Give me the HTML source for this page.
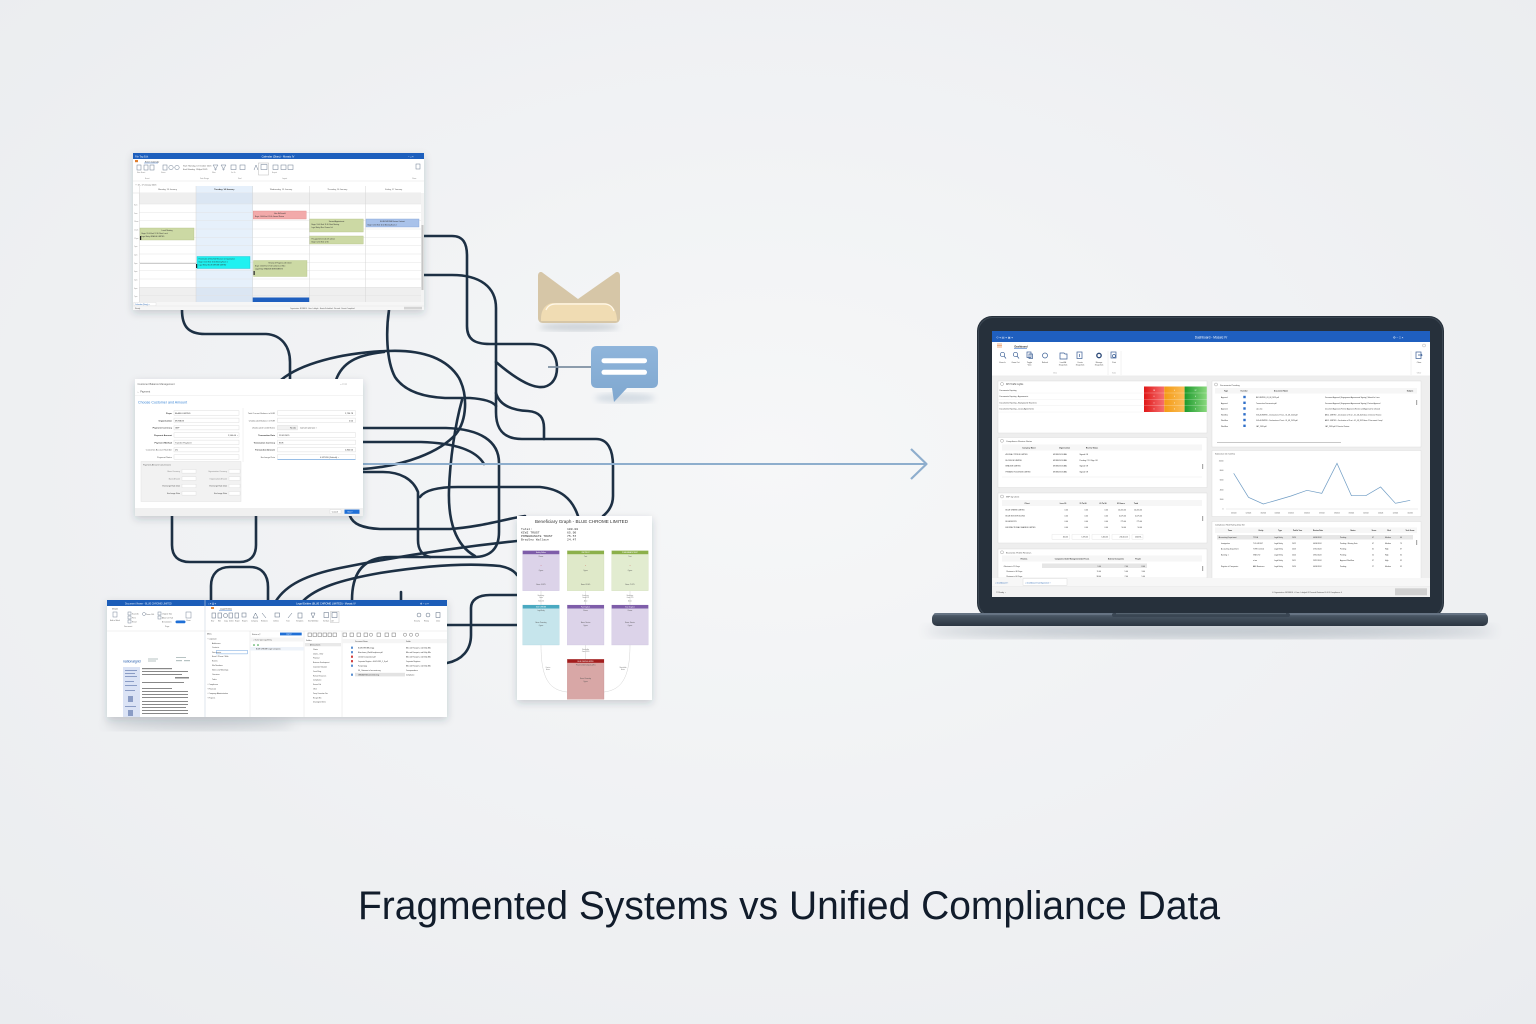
<!DOCTYPE html>
<html><head><meta charset="utf-8">
<style>
html,body{margin:0;padding:0;width:1536px;height:1024px;overflow:hidden;background:#f2f3f5;}
svg{display:block;font-family:"Liberation Sans",Arial,sans-serif;}
</style></head><body>
<svg width="1536" height="1024" viewBox="0 0 1536 1024" xmlns="http://www.w3.org/2000/svg">
<defs>
<radialGradient id="bg" cx="50%" cy="45%" r="75%">
<stop offset="0" stop-color="#f6f7f8"/><stop offset="1" stop-color="#eaecef"/>
</radialGradient>
<filter id="sh" x="-10%" y="-10%" width="120%" height="135%"><feDropShadow dx="0" dy="3" stdDeviation="4" flood-color="#24364a" flood-opacity="0.2"/></filter>
<filter id="sh2" x="-20%" y="-20%" width="140%" height="160%"><feDropShadow dx="0" dy="4" stdDeviation="4" flood-color="#4a6a8a" flood-opacity="0.22"/></filter>
<filter id="blur6"><feGaussianBlur stdDeviation="6"/></filter>
<filter id="blur3"><feGaussianBlur stdDeviation="3"/></filter>
<linearGradient id="gr" x1="0" x2="1"><stop offset="0" stop-color="#e01818"/><stop offset="1" stop-color="#f67070"/></linearGradient>
<linearGradient id="go" x1="0" x2="1"><stop offset="0" stop-color="#f39a14"/><stop offset="1" stop-color="#fbbd58"/></linearGradient>
<linearGradient id="gg" x1="0" x2="1"><stop offset="0" stop-color="#1c9a2c"/><stop offset="1" stop-color="#8ad87e"/></linearGradient>
<linearGradient id="base" x1="0" y1="0" x2="0" y2="1"><stop offset="0" stop-color="#5c6a7a"/><stop offset="0.3" stop-color="#45525f"/><stop offset="1" stop-color="#2b3541"/></linearGradient>
<linearGradient id="chat" x1="0" y1="0" x2="0" y2="1"><stop offset="0" stop-color="#8fb5db"/><stop offset="1" stop-color="#7fa7cf"/></linearGradient>
</defs>

<rect x="0" y="0" width="1536" height="1024" fill="url(#bg)"/>

<!-- tangled lines -->
<g fill="none" stroke="#1d3044" stroke-width="2.6" stroke-linecap="round" stroke-linejoin="round">
<path d="M424,236 H452 C463,236 467,243 467,256 V326 C467,339 474,344 490,344 H530 C549,344 557,354 557,368 C557,381 549,388 539,387 C527,386 510,374 496,362"/>
<path d="M424,275 H452 C480,275 496,287 496,308 V412 C496,430 504,439 522,439 H596 C608,439 613,450 613,466 V496 C613,506 608,512 603,516"/>
<path d="M496,393 C499,404 510,410 528,411 C540,412 544,418 544,428 V439"/>
<path d="M281,380 C300,364 340,353 386,351 C425,349 448,360 459,378 C468,395 467,420 456,434 C440,452 405,466 363,469"/>
<path d="M336,380 C342,363 356,355 384,352"/>
<path d="M182,310 C182,326 188,334 205,334 H266 C282,335 290,347 290,362 V380"/>
<path d="M389,310 C386,330 386,360 395,377 C405,392 425,397 445,398 H470 C485,399 493,402 496,406"/>
<path d="M462,400 C455,425 450,460 449,490 C448,520 455,545 475,556"/>
<path d="M363,428 H446 C480,429 499,441 499,463 V532 C499,549 490,557 474,557 H390 C366,557 352,570 352,600"/>
<path d="M363,442 H421 C455,443 476,450 484,464"/>
<path d="M363,472 H383 C400,472 413,479 418,492 V540 C418,550 422,555 430,557"/>
<path d="M420,497 C425,490 438,487 458,487 H540 C560,489 572,498 578,516"/>
<path d="M172,516 V545 C172,556 178,562 190,562 H240 C250,562 256,556 256,545 V516"/>
<path d="M211,600 V586 C211,574 218,567 230,567 H250 C262,567 268,575 268,587 V600"/>
<path d="M276,601 C286,585 306,575 340,568 C390,558 450,548 517,541"/>
<path d="M303,601 C316,588 340,580 380,573 C430,565 470,563 500,566 C510,568 515,572 517,575"/>
<path d="M401,592 V601"/>
<path d="M447,625 H518"/>
<path d="M447,663 C462,660 471,650 471,635 V608 C471,600 478,595 490,595 H518"/>
<path d="M350,516 C353,524 362,528 380,529 H450 C480,527 505,519 525,516"/>
</g>

<!-- arrow -->
<line x1="363" y1="464" x2="926" y2="464" stroke="#8eaecd" stroke-width="2"/>
<polyline points="911,449 926.5,464 911,479" fill="none" stroke="#8eaecd" stroke-width="2.2" stroke-linejoin="round"/>

<!-- envelope -->
<ellipse cx="579" cy="327" rx="40" ry="4" fill="#5a6a7a" opacity="0.25" filter="url(#blur3)"/>
<path d="M538,276 C538,272 541,271 543,273 L578,299 L615,273 C617,271 620,272 620,276 L620,318 C620,321 618,323 615,323 L543,323 C540,323 538,321 538,318 Z" fill="#d6c6a7"/>
<path d="M541,319 C541,311 544,305 552,303 L606,303 C613,305 616,310 617,319 L617,321 L541,321 Z" fill="#f0dcb3"/>
<path d="M546,310 C548,305 552,304 556,304 L604,304 C609,304 612,306 614,311" fill="none" stroke="#fff8ea" stroke-width="1.3"/>

<!-- chat bubble -->
<line x1="548" y1="367" x2="592" y2="367" stroke="#7d8fa2" stroke-width="1.8"/>
<ellipse cx="625" cy="398" rx="30" ry="5" fill="#5a7a9a" opacity="0.2" filter="url(#blur3)"/>
<path d="M597,346 H652 Q658,346 658,352 V382 Q658,388 652,388 H627 L614,402 L612,388 H597 Q591,388 591,382 V352 Q591,346 597,346 Z" fill="url(#chat)"/>
<rect x="601.5" y="358.2" width="45.5" height="5" rx="2.5" fill="#fff"/>
<rect x="601.5" y="369.8" width="45.5" height="5" rx="2.5" fill="#fff"/>

<!-- ================= CALENDAR WINDOW ================= -->
<g>
<rect x="133" y="153" width="291" height="157" fill="#fff" filter="url(#sh)"/>
<rect x="133" y="153" width="291" height="6" fill="#1d5fbd"/>
<text x="278" y="157.4" font-size="2.6" fill="#fff" text-anchor="middle">Calendar (Diary) - Mosaic IV</text>
<text x="135" y="157.4" font-size="2.4" fill="#dbe6f7">File  Tag  Edit</text>
<text x="408" y="157.4" font-size="2.4" fill="#fff">–  □  ×</text>
<rect x="135" y="160" width="3" height="2.2" fill="#e08030"/>
<text x="145" y="162.3" font-size="2.1" fill="#333">Event Calendar</text>
<line x1="144" y1="163" x2="158" y2="163" stroke="#1d5fbd" stroke-width=".4"/>
<g fill="none" stroke="#6a7b90" stroke-width=".5">
<rect x="137" y="165" width="4" height="5"/><rect x="144" y="165" width="4" height="5"/><rect x="150" y="165" width="4" height="5"/>
<rect x="163" y="165" width="4" height="5"/><circle cx="171" cy="167.5" r="2.2"/><circle cx="177" cy="167.5" r="2.2"/>
<path d="M213,165 h5 l-2,3 v2 h-1 v-2 z"/><path d="M221,165 h5 l-2,3 v2 h-1 v-2 z"/>
<rect x="231" y="165" width="5" height="4.5"/><rect x="240" y="165" width="5" height="4.5"/>
<path d="M254,170 l2,-5 l2,5"/><rect x="261" y="164.5" width="6" height="5"/><rect x="273" y="165" width="5" height="4.5"/><rect x="281" y="165" width="5" height="4.5"/><rect x="288" y="165" width="5" height="4.5"/>
<rect x="416" y="164" width="4" height="5"/>
</g>
<rect x="258.5" y="163" width="10" height="12" fill="none" stroke="#aaa" stroke-width=".4"/>
<text x="183" y="166.5" font-size="2" fill="#555">Start: Monday, 13 October 2025</text>
<text x="183" y="170" font-size="2" fill="#555">End: Monday, 13 April 2025</text>
<g font-size="1.7" fill="#888">
<text x="137" y="173">New Event</text><text x="161" y="173">Views</text><text x="212" y="173">Filter</text><text x="231" y="173">Go To</text><text x="272" y="173">Export</text>
<text x="145" y="179">Event</text><text x="200" y="179">Date Range</text><text x="238" y="179">Find</text><text x="282" y="179">Layout</text><text x="412" y="179">Close</text>
</g>
<line x1="133" y1="181" x2="424" y2="181" stroke="#e3e3e3" stroke-width=".5"/>
<text x="135" y="185.3" font-size="2" fill="#555">‹  ›  13 - 17 January 2025</text>
<rect x="196" y="186" width="56.7" height="116" fill="#e6f0fb"/>
<g font-size="2.1" fill="#555" text-anchor="middle">
<text x="167.6" y="190">Monday, 13 January</text><text x="224.3" y="190" fill="#333" font-weight="bold">Tuesday, 14 January</text><text x="281" y="190">Wednesday, 15 January</text><text x="337.3" y="190">Thursday, 16 January</text><text x="393.7" y="190">Friday, 17 January</text>
</g>
<line x1="133" y1="193" x2="421" y2="193" stroke="#dcdcdc" stroke-width=".5"/>
<rect x="139.3" y="193" width="56.7" height="11" fill="#efefef"/><rect x="252.7" y="193" width="168.3" height="11" fill="#efefef"/><rect x="196" y="193" width="56.7" height="11" fill="#dbe6f3"/>
<rect x="139.3" y="287" width="56.7" height="15" fill="#efefef"/><rect x="252.7" y="287" width="168.3" height="15" fill="#efefef"/><rect x="196" y="287" width="56.7" height="15" fill="#dbe6f3"/>
<g stroke="#e2e2e2" stroke-width=".45">
<line x1="139" y1="204" x2="421" y2="204"/><line x1="139" y1="212.3" x2="421" y2="212.3"/><line x1="139" y1="220.7" x2="421" y2="220.7"/><line x1="139" y1="229" x2="421" y2="229"/><line x1="139" y1="237.3" x2="421" y2="237.3"/><line x1="139" y1="245.7" x2="421" y2="245.7"/><line x1="139" y1="254" x2="421" y2="254"/><line x1="139" y1="262.3" x2="421" y2="262.3"/><line x1="139" y1="270.7" x2="421" y2="270.7"/><line x1="139" y1="279" x2="421" y2="279"/><line x1="139" y1="287.3" x2="421" y2="287.3"/><line x1="139" y1="295.7" x2="421" y2="295.7"/>
</g>
<g stroke="#d6d6d6" stroke-width=".5">
<line x1="139.3" y1="186" x2="139.3" y2="302"/><line x1="196" y1="186" x2="196" y2="302"/><line x1="252.7" y1="186" x2="252.7" y2="302"/><line x1="309.3" y1="186" x2="309.3" y2="302"/><line x1="365.3" y1="186" x2="365.3" y2="302"/>
</g>
<g font-size="1.6" fill="#888">
<text x="134.3" y="205.5">8am</text><text x="134.3" y="213.8">9am</text><text x="134.3" y="222">10am</text><text x="134.3" y="230.5">11am</text><text x="134.3" y="238.8">12pm</text><text x="134.3" y="247">1pm</text><text x="134.3" y="255.5">2pm</text><text x="134.3" y="263.8">3pm</text><text x="134.3" y="272">4pm</text><text x="134.3" y="280.5">5pm</text><text x="134.3" y="288.8">6pm</text><text x="134.3" y="297">7pm</text>
</g>
<!-- events -->
<rect x="253.2" y="211" width="53" height="8" fill="#f2aaaa" stroke="#de8c8c" stroke-width=".4"/>
<text x="279.7" y="214" font-size="1.7" fill="#333" text-anchor="middle">Jake McDonald</text><text x="255" y="217" font-size="1.6" fill="#333">Begin: 14:00 End: 15:00 - Annual Review</text>
<rect x="309.8" y="219" width="53.5" height="13" fill="#ccd9a4" stroke="#b5c38a" stroke-width=".4"/>
<text x="336.5" y="222" font-size="1.7" fill="#333" text-anchor="middle">Second Appointment</text><text x="311.5" y="225" font-size="1.6" fill="#333">Begin: 10:00 End: 11:30 Client Meeting</text><text x="311.5" y="228" font-size="1.6" fill="#333">Legal Entity: Blue Chrome Ltd</text>
<rect x="309.8" y="236" width="53.5" height="8" fill="#ccd9a4" stroke="#b5c38a" stroke-width=".4"/>
<text x="311.5" y="239.5" font-size="1.6" fill="#333">Pre-appointment call with advisor</text><text x="311.5" y="242.3" font-size="1.6" fill="#333">Begin: 12:00 End: 12:30</text>
<rect x="366" y="219" width="53" height="8" fill="#a9c2ea" stroke="#7fa0d6" stroke-width=".4"/>
<text x="392.5" y="222" font-size="1.7" fill="#333" text-anchor="middle">BLUECHROME Review Contract</text><text x="367.5" y="225.3" font-size="1.6" fill="#333">Begin: 10:00 End: 11:00 Meeting Room 2</text>
<rect x="140" y="228" width="54" height="12" fill="#ccd9a4" stroke="#b5c38a" stroke-width=".4"/>
<text x="167" y="231" font-size="1.7" fill="#333" text-anchor="middle">Lunch Meeting</text><text x="141.5" y="234" font-size="1.6" fill="#333">Begin: 11:00 End: 12:30 Client Lunch</text><text x="141.5" y="237" font-size="1.6" fill="#333">Legal Entity: BRAGGE LIMITED</text>
<rect x="140" y="236" width="1.2" height="4" fill="#222"/>
<rect x="197" y="256.5" width="53" height="12" fill="#1ff1f1" stroke="#10c0d0" stroke-width=".4"/>
<text x="198.5" y="259.5" font-size="1.6" fill="#333">Presentation of New Staff Structure to Organisation</text><text x="198.5" y="262.5" font-size="1.6" fill="#333">Begin: 15:00 End: 16:00 Meeting Room 1</text><text x="198.5" y="265.5" font-size="1.6" fill="#333">Legal Entity: BLUE CHROME LIMITED</text>
<rect x="196" y="264" width="1.2" height="4" fill="#222"/>
<line x1="140" y1="263.5" x2="196" y2="263.5" stroke="#999" stroke-width=".5"/>
<rect x="253.5" y="260.5" width="53.5" height="16" fill="#ccd9a4" stroke="#b5c38a" stroke-width=".4"/>
<text x="280" y="263.5" font-size="1.7" fill="#333" text-anchor="middle">Review of Progress with Client</text><text x="255" y="266.5" font-size="1.6" fill="#333">Begin: 15:00 End: 17:00 Conference Office</text><text x="255" y="269.5" font-size="1.6" fill="#333">Legal Entity: BRAGGE INVESTMENTS</text>
<rect x="253.5" y="271" width="1.2" height="4" fill="#222"/>
<rect x="252.7" y="297.5" width="56.5" height="4.5" fill="#1f5fbf"/>
<rect x="421" y="193" width="3" height="109" fill="#f3f3f3"/><rect x="421.5" y="225" width="2" height="65" fill="#c6c6c6"/>
<rect x="133" y="302" width="291" height="8" fill="#f6f6f6"/>
<rect x="134" y="302.5" width="22" height="3.2" fill="#fff" stroke="#cfcfcf" stroke-width=".3"/>
<text x="135" y="305" font-size="1.8" fill="#2060b0">Calendar (Diary) ×</text>
<line x1="133" y1="306" x2="424" y2="306" stroke="#e0e0e0" stroke-width=".3"/>
<text x="135" y="309" font-size="1.8" fill="#555">Ready</text>
<text x="290" y="309" font-size="1.6" fill="#555">Organisation: MOSBUS · User: Lukdyak · Events Scheduled · Records · Events Completed</text>
<rect x="404" y="306.8" width="18" height="2.6" fill="#d4d4d4"/>
</g>

<!-- ================= FORM WINDOW ================= -->
<g>
<rect x="135" y="379" width="228" height="137" fill="#fff" filter="url(#sh)"/>
<text x="137.5" y="385" font-size="2.6" fill="#666">Customer Balance Management</text>
<text x="340" y="385" font-size="3" fill="#777">–   □   ×</text>
<text x="137" y="392.3" font-size="2.5" fill="#555">←  Payment</text>
<line x1="135" y1="395.5" x2="363" y2="395.5" stroke="#e8e8e8" stroke-width=".5"/>
<text x="138" y="403.5" font-size="3.6" fill="#3b86d6">Choose Customer and Amount</text>
<line x1="243" y1="408" x2="243" y2="462" stroke="#e6e6e6" stroke-width=".5"/>
<g font-size="2.2" fill="#333" text-anchor="end" font-weight="bold">
<text x="172" y="414">Payer</text><text x="172" y="421.3">Organisation</text><text x="172" y="428.7">Payment Currency</text><text x="172" y="436">Payment Amount</text><text x="172" y="443.3">Payment Method</text>
</g>
<g font-size="2.2" fill="#555" text-anchor="end">
<text x="172" y="450.7">Customer Account Number</text><text x="172" y="458">Payment Notes</text>
</g>
<g fill="#fff" stroke="#d6d6d6" stroke-width=".4">
<rect x="174" y="410.8" width="65" height="4.4"/><rect x="174" y="418.1" width="65" height="4.4"/><rect x="174" y="425.5" width="65" height="4.4"/><rect x="174" y="432.8" width="65" height="4.4"/><rect x="174" y="440.1" width="65" height="4.4"/><rect x="174" y="447.5" width="65" height="4.4"/><rect x="174" y="454.8" width="65" height="4.4"/>
<rect x="277.5" y="410.8" width="78" height="4.4"/><rect x="277.5" y="418.1" width="78" height="4.4"/><rect x="277.5" y="432.8" width="78" height="4.4"/><rect x="277.5" y="440.1" width="78" height="4.4"/><rect x="277.5" y="447.5" width="78" height="4.4"/><rect x="277.5" y="454.8" width="78" height="4.4"/>
</g>
<rect x="277.5" y="425.5" width="20" height="4.4" fill="#f2f2f2" stroke="#d6d6d6" stroke-width=".4"/>
<g font-size="2.1" fill="#333">
<text x="175" y="414">BLAKE LIMITED</text><text x="175" y="421.3">MOSBUS</text><text x="175" y="428.7">GBP</text><text x="228" y="436">2,500.00 ⌄</text><text x="175" y="443.3">Transfer Payment</text><text x="175" y="450.7">[T]</text>
<text x="345" y="414">2,736.78</text><text x="349" y="421.3">0.00</text><text x="290" y="428.7">No (0)</text><text x="300" y="428.7">Convert and use ○</text><text x="279" y="436">21/01/2025</text><text x="279" y="443.3">EUR</text><text x="345" y="450.7">2,800.00</text><text x="320" y="458">0.927659 (Default) ⌄</text>
</g>
<g font-size="2.1" fill="#555" text-anchor="end">
<text x="275" y="414">Total Current Balance in EUR</text><text x="275" y="421.3">Unallocated Balance in EUR</text><text x="275" y="428.7">Unallocated Credit Notes</text>
</g>
<g font-size="2.1" fill="#333" text-anchor="end" font-weight="bold">
<text x="275" y="436">Transaction Date</text><text x="275" y="443.3">Transaction Currency</text><text x="275" y="450.7">Transaction Amount</text>
</g>
<text x="275" y="458" font-size="2.1" fill="#555" text-anchor="end">Exchange Rate</text>
<line x1="277.5" y1="459.4" x2="355.5" y2="459.4" stroke="#3b86d6" stroke-width=".5"/>
<rect x="141" y="461.5" width="100" height="40" fill="#f2f2f2" stroke="#dcdcdc" stroke-width=".4"/>
<text x="143" y="465.5" font-size="2.1" fill="#555">Payment Amount Conversions</text>
<g font-size="1.9" fill="#888" text-anchor="end">
<text x="180" y="472">Base Currency</text><text x="180" y="479.3">Base Amount</text><text x="227" y="472">Organisation Currency</text><text x="227" y="479.3">Organisation Amount</text>
</g>
<g font-size="1.9" fill="#444" text-anchor="end">
<text x="180" y="486.7">Exchange Rate Date</text><text x="180" y="494">Exchange Rate</text><text x="227" y="486.7">Exchange Rate Date</text><text x="227" y="494">Exchange Rate</text>
</g>
<g fill="#fff" stroke="#d6d6d6" stroke-width=".35">
<rect x="182" y="469.5" width="14" height="3.6"/><rect x="182" y="476.8" width="14" height="3.6"/><rect x="182" y="484.2" width="14" height="3.6"/><rect x="182" y="491.5" width="14" height="3.6"/>
<rect x="229" y="469.5" width="11" height="3.6"/><rect x="229" y="476.8" width="11" height="3.6"/><rect x="229" y="484.2" width="11" height="3.6"/><rect x="229" y="491.5" width="11" height="3.6"/>
</g>
<rect x="135" y="508" width="228" height="8" fill="#f0f0f0"/>
<rect x="330" y="509.6" width="11" height="4.2" fill="#fff" stroke="#ccc" stroke-width=".3"/>
<text x="331.8" y="512.6" font-size="2" fill="#444">Cancel</text>
<rect x="344.5" y="509.6" width="15" height="4.2" fill="#1f6fd6"/>
<text x="347.5" y="512.6" font-size="2" fill="#fff">Next ›</text>
</g>

<!-- ================= BOTTOM WINDOW ================= -->
<g>
<ellipse cx="200" cy="724" rx="95" ry="6" fill="#2a3a4a" opacity="0.18" filter="url(#blur6)"/>
<rect x="107" y="600" width="340" height="117" fill="#fff" filter="url(#sh)"/>
<rect x="107" y="600" width="340" height="6" fill="#1c5db8"/>
<line x1="205" y1="600" x2="205" y2="717" stroke="#c9d3e0" stroke-width=".6"/>
<text x="125" y="604.3" font-size="2.3" fill="#dbe6f7">Document Viewer - BLUE CHROME LIMITED</text>
<text x="326" y="604.3" font-size="2.5" fill="#fff" text-anchor="middle">Legal Entities (BLUE CHROME LIMITED) - Mosaic IV</text>
<text x="208" y="604.3" font-size="2.3" fill="#dbe6f7">⌂ ▾ ▤ ▾</text>
<text x="420" y="604.3" font-size="2.5" fill="#fff">⚙ –  □  ×</text>
<!-- left ribbon -->
<text x="112" y="609.3" font-size="2" fill="#333">Viewer</text>
<g fill="none" stroke="#6a7b90" stroke-width=".45">
<rect x="113" y="612" width="4" height="5"/><rect x="128" y="612" width="3" height="3"/><rect x="128" y="616" width="3" height="3"/><rect x="128" y="620" width="3" height="3"/>
<circle cx="144" cy="614" r="1.5"/><rect x="158" y="612" width="3" height="3"/><rect x="158" y="616" width="3" height="3"/><rect x="186" y="612" width="5" height="6"/>
</g>
<g font-size="1.8" fill="#666">
<text x="110" y="621">Edit in Word</text><text x="132" y="614.5">Save As</text><text x="132" y="618.5">Print</text><text x="132" y="622.5">Email</text><text x="146" y="614.8">Zoom 100</text><text x="162" y="614.5">Original Size</text><text x="162" y="618.5">Allow Ctrl Tab</text><text x="162" y="622.5">Annotations</text><text x="186" y="621">Close</text>
<text x="124" y="627">Document</text><text x="165" y="627">Page</text>
</g>
<rect x="175.5" y="620.5" width="10" height="2.8" rx="1.4" fill="#1f6fd6"/>
<line x1="107" y1="631" x2="205" y2="631" stroke="#e3e3e3" stroke-width=".5"/>
<!-- doc thumbnail -->
<text x="123" y="662.5" font-size="3.4" fill="#1d56aa">nationalgrid</text>
<g fill="#9aa" opacity=".7"><rect x="148" y="658.5" width="10" height="1"/><rect x="148" y="660.5" width="8" height="1"/><rect x="176" y="657" width="10" height="1"/><rect x="176" y="660" width="6" height="1.2"/><rect x="184" y="660" width="6" height="1.2"/></g>
<rect x="123" y="667" width="17" height="50" fill="#dbe3f5"/>
<g fill="#8a9cc5"><rect x="125" y="670" width="12" height="1"/><rect x="125" y="673" width="10" height="1"/><rect x="125" y="676" width="12" height="1"/><rect x="125" y="681" width="9" height="1"/><rect x="125" y="685" width="12" height="1"/><rect x="125" y="690" width="10" height="1"/><rect x="128" y="696" width="5" height="6"/><rect x="125" y="706" width="11" height="1"/><rect x="128" y="710" width="5" height="6"/></g>
<g fill="#888"><rect x="142" y="668" width="30" height="1.2"/><rect x="142" y="671" width="46" height="1"/><rect x="142" y="674" width="40" height="1"/><rect x="175" y="677" width="14" height="1.5"/><rect x="142" y="682" width="42" height="1"/><rect x="142" y="688" width="30" height="1"/><rect x="142" y="691" width="46" height="1"/><rect x="142" y="694" width="46" height="1"/><rect x="142" y="697" width="46" height="1"/><rect x="142" y="701" width="46" height="1"/><rect x="142" y="704" width="46" height="1"/><rect x="142" y="707" width="44" height="1"/><rect x="142" y="710" width="46" height="1"/><rect x="142" y="713" width="46" height="1"/></g>
<!-- right ribbon -->
<rect x="211" y="607" width="3" height="2" fill="#e08030"/>
<text x="220" y="609.5" font-size="2" fill="#333">Legal Entities</text>
<line x1="219" y1="610.2" x2="232" y2="610.2" stroke="#1c5db8" stroke-width=".4"/>
<g fill="none" stroke="#5a6b80" stroke-width=".5">
<rect x="212" y="613" width="3.5" height="5"/><rect x="218" y="613" width="3.5" height="5"/><circle cx="225.5" cy="615.5" r="2"/><rect x="229" y="613" width="3.5" height="5"/>
<rect x="235" y="613" width="3.5" height="5"/><rect x="242" y="613" width="4" height="4"/><path d="M253,618 l2.5,-5 l2.5,5 z"/><path d="M262,613 l4,5"/>
<rect x="275" y="613" width="4.5" height="4"/><path d="M288,618 l4,-5"/><rect x="298" y="613" width="4" height="5"/><path d="M311,613 l4,0 l-2,5 z"/>
<rect x="324" y="612.5" width="4.5" height="5"/><rect x="332" y="612.5" width="5" height="5"/><circle cx="419" cy="615" r="2"/><circle cx="428" cy="615" r="2"/><rect x="436" y="612.5" width="4" height="5"/>
</g>
<rect x="330.5" y="611.5" width="8.5" height="11" fill="none" stroke="#aaa" stroke-width=".35"/>
<g font-size="1.6" fill="#666">
<text x="211" y="621.5">New</text><text x="218" y="621.5">Edit</text><text x="224" y="621.5">Copy</text><text x="229" y="621.5">Delete</text><text x="235" y="621.5">Export</text><text x="242" y="621.5">Reports</text><text x="251" y="621.5">Company</text><text x="261" y="621.5">Relations</text><text x="273" y="621.5">Outlines</text><text x="286" y="621.5">Trust</text><text x="296" y="621.5">Templates</text><text x="308" y="621.5">Start Workflow</text><text x="323" y="621.5">Go Back</text><text x="331" y="621.5">Left</text><text x="414" y="621.5">Security</text><text x="424" y="621.5">History</text><text x="436" y="621.5">Close</text>
</g>
<line x1="205" y1="631" x2="447" y2="631" stroke="#e3e3e3" stroke-width=".5"/>
<!-- panes -->
<g stroke="#e0e0e0" stroke-width=".5"><line x1="250" y1="631" x2="250" y2="717"/><line x1="304" y1="631" x2="304" y2="717"/><line x1="342" y1="631" x2="342" y2="717"/></g>
<text x="207" y="634.5" font-size="1.9" fill="#333">Menu</text>
<g font-size="1.8" fill="#444">
<text x="207.5" y="639.6">› Corporate</text><text x="212" y="643.9">Addresses</text><text x="212" y="648.2">Contacts</text><text x="212" y="652.8">Documents</text><text x="212" y="657.2">Email / Phone / Web</text><text x="212" y="661.5">Events</text><text x="212" y="666.2">File Numbers</text><text x="212" y="670.5">Notes and Warnings</text><text x="212" y="675.2">Overview</text><text x="212" y="679.8">Tasks</text>
<text x="207.5" y="685.2">› Compliance</text><text x="207.5" y="689.5">› Financial</text><text x="207.5" y="693.8">› Company Administration</text><text x="207.5" y="698.5">› Projects</text>
</g>
<rect x="216.7" y="650.3" width="30.6" height="3.6" fill="none" stroke="#4a8ad6" stroke-width=".4"/>
<text x="252" y="635" font-size="1.8" fill="#444">Status  ▾  ▽</text>
<rect x="280" y="632.6" width="21.7" height="2.8" fill="#1f6fd6"/>
<text x="286" y="634.7" font-size="1.6" fill="#fff">Legend</text>
<rect x="250" y="637.5" width="54" height="4" fill="#f5f5f5"/>
<text x="253" y="640.3" font-size="1.6" fill="#555">✓  Name     Type   Legal Entity</text>
<circle cx="254" cy="645" r=".8" fill="#2a9a3a"/><circle cx="258" cy="645" r=".8" fill="#2a9a3a"/>
<rect x="250" y="647" width="54" height="3.5" fill="#eef3fa"/>
<text x="256" y="649.6" font-size="1.6" fill="#333">BLUE CHROME  Legal  Companies</text>
<g fill="none" stroke="#666" stroke-width=".45">
<rect x="308" y="633" width="3.5" height="3.5"/><rect x="313" y="633" width="3.5" height="3.5"/><rect x="318" y="633" width="3.5" height="3.5"/><rect x="323" y="633" width="3.5" height="3.5"/><rect x="328" y="633" width="3.5" height="3.5"/><rect x="333" y="633" width="3.5" height="3.5"/>
<rect x="343" y="633" width="3.5" height="3.5"/><rect x="350" y="633" width="3.5" height="3.5"/><rect x="357" y="633" width="3.5" height="3.5"/><rect x="364" y="633" width="3.5" height="3.5"/><circle cx="371" cy="634.7" r="1.6"/><rect x="377" y="633" width="3.5" height="3.5"/><rect x="385" y="633" width="3.5" height="3.5"/><rect x="392" y="633" width="3.5" height="3.5"/><circle cx="405" cy="634.7" r="1.6"/><circle cx="411" cy="634.7" r="1.6"/><circle cx="417" cy="634.7" r="1.6"/>
</g>
<text x="306" y="641" font-size="1.7" fill="#444">Folders</text>
<rect x="305" y="643" width="36" height="3.3" fill="#e9e9e9"/>
<g font-size="1.6" fill="#444">
<text x="310" y="645.5">All Documents</text><text x="313" y="649.9">Clients</text><text x="313" y="654.3">Clients - Other</text><text x="313" y="658.7">Financial</text><text x="313" y="663.1">Business Development</text><text x="313" y="667.5">Corporate Valuation</text><text x="313" y="671.9">Court Filing</text><text x="313" y="676.3">Human Resources</text><text x="313" y="680.7">Compliance</text><text x="313" y="685.1">Secure File</text><text x="313" y="689.5">Other</text><text x="313" y="693.9">Temp Correction Doc</text><text x="313" y="698.3">Recycle Bin</text><text x="313" y="702.7">Unassigned Items</text>
</g>
<rect x="342" y="639" width="105" height="4.2" fill="#f5f5f5"/>
<text x="355" y="641.8" font-size="1.7" fill="#444">Document Name</text><text x="406" y="641.8" font-size="1.7" fill="#444">Folder</text>
<g font-size="1.6" fill="#333">
<text x="358" y="648.5">BLUECHROME-03.jpg</text><text x="406" y="648.5">Bills and Passports, and Utility Bills</text>
<text x="358" y="653">Bluechrome_WorldCompliance.pdf</text><text x="406" y="653">Bills and Passports, and Utility Bills</text>
<text x="358" y="657.5">Limited Incorporation.pdf</text><text x="406" y="657.5">Bills and Passports, and Utility Bills</text>
<text x="358" y="662">Corporate Register - 06-02-2023_C_S.pdf</text><text x="406" y="662">Corporate Registers</text>
<text x="358" y="666.5">Passport.jpg</text><text x="406" y="666.5">Bills and Passports, and Utility Bills</text>
<text x="358" y="671">FS_ Statement of accounts.msg</text><text x="406" y="671">Correspondence</text>
</g>
<rect x="355" y="672.8" width="50" height="3.6" fill="#e3e3e3"/>
<text x="358" y="675.5" font-size="1.6" fill="#333">OBSLAW Welcome letter.msg</text><text x="406" y="675.5" font-size="1.6" fill="#333">Compliance</text>
<g fill="#5a8fd0"><rect x="351" y="646.6" width="2" height="2.2"/><rect x="351" y="651.1" width="2" height="2.2"/><rect x="351" y="664.6" width="2" height="2.2"/><rect x="351" y="673.6" width="2" height="2.2"/></g>
<g fill="#d04040"><rect x="351" y="655.6" width="2" height="2.2"/><rect x="351" y="660.1" width="2" height="2.2"/></g>
</g>

<!-- ================= BENEFICIARY GRAPH ================= -->
<g>
<rect x="517" y="516" width="135" height="184" fill="#fff" filter="url(#sh)"/>
<text x="535" y="522.8" font-size="4.2" fill="#333" textLength="93" lengthAdjust="spacingAndGlyphs">Beneficiary Graph - BLUE CHROME LIMITED</text>
<g font-family="'Liberation Mono',monospace" font-size="3.1" fill="#333">
<text x="521" y="530">Total:</text><text x="521" y="533.5">KIWI TRUST</text><text x="521" y="537">POMEGRANATE TRUST</text><text x="521" y="540.5">Bradley Wallace</text>
<text x="567" y="530">100.00</text><text x="567" y="533.5">65.90</text><text x="567" y="537">75.57</text><text x="567" y="540.5">24.47</text>
</g>
<g fill="none" stroke="#c8c8c8" stroke-width=".4">
<line x1="541" y1="591" x2="541" y2="605"/><line x1="585.6" y1="591" x2="585.6" y2="605"/><line x1="630" y1="591" x2="630" y2="605"/>
<line x1="585.6" y1="645" x2="585.6" y2="659"/>
<path d="M541,645 C541,680 550,690 567,692"/><path d="M630,645 C630,680 620,690 604,692"/>
</g>
<g font-size="1.3" fill="#777" text-anchor="middle">
<text x="541" y="596">Beneficiary</text><text x="541" y="598">Owner</text><text x="541" y="601.5">Valid Until</text>
<text x="585.6" y="596">Beneficiary</text><text x="585.6" y="598">Owner 65%</text><text x="585.6" y="601.5">Active</text>
<text x="630" y="596">Beneficiary</text><text x="630" y="598">Owner 75%</text><text x="630" y="601.5">Active</text>
<text x="585.6" y="650">Shareholder</text><text x="585.6" y="652">Owner 100%</text>
<text x="548" y="668">Director</text><text x="548" y="670">Active</text><text x="623" y="668">Shareholder</text><text x="623" y="670">Active</text>
</g>
<!-- row1 -->
<rect x="522.7" y="550.7" width="36.6" height="40" fill="#dcd3e9" stroke="#c9bede" stroke-width=".3"/><rect x="522.7" y="550.7" width="36.6" height="3.5" fill="#7e5da9"/>
<rect x="567.3" y="550.7" width="36.7" height="40" fill="#dfe9c9" stroke="#cbd9ae" stroke-width=".3"/><rect x="567.3" y="550.7" width="36.7" height="3.5" fill="#8cb04a"/>
<rect x="611.7" y="550.7" width="36.6" height="40" fill="#e2ecd0" stroke="#cbd9ae" stroke-width=".3"/><rect x="611.7" y="550.7" width="36.6" height="3.5" fill="#8cb04a"/>
<!-- row2 -->
<rect x="522.7" y="605" width="36.6" height="40" fill="#c6e5ec" stroke="#a9d3de" stroke-width=".3"/><rect x="522.7" y="605" width="36.6" height="3.5" fill="#4aa9c1"/>
<rect x="567.3" y="605" width="36.7" height="40" fill="#dcd3e9" stroke="#c9bede" stroke-width=".3"/><rect x="567.3" y="605" width="36.7" height="3.5" fill="#7e5da9"/>
<rect x="611.7" y="605" width="36.6" height="40" fill="#dcd3e9" stroke="#c9bede" stroke-width=".3"/><rect x="611.7" y="605" width="36.6" height="3.5" fill="#7e5da9"/>
<!-- row3 -->
<rect x="567.3" y="659.3" width="36.7" height="40" fill="#d8a7a6" stroke="#c48b8a" stroke-width=".3"/><rect x="567.3" y="659.3" width="36.7" height="3.5" fill="#a31d1d"/>
<g font-size="1.4" fill="#fff" text-anchor="middle">
<text x="541" y="553.2">Bradley Wallace</text><text x="585.6" y="553.2">KIWI TRUST</text><text x="630" y="553.2">POMEGRANATE TRUST</text>
<text x="541" y="607.5">BLUE CHROME</text><text x="585.6" y="607.5">Paul Grayburn</text><text x="630" y="607.5">Sean Grayburn</text>
<text x="585.6" y="661.8">BLUE CHROME LIMITED</text>
</g>
<g font-size="1.4" fill="#555" text-anchor="middle">
<text x="541" y="557">Person</text><text x="585.6" y="557">Trust</text><text x="630" y="557">Trust</text>
<text x="541" y="566" fill="#c03030">●</text><text x="585.6" y="566" fill="#c03030">●</text><text x="630" y="566" fill="#c03030">●</text>
<text x="541" y="571">Cyprus</text><text x="585.6" y="571">Cyprus</text><text x="630" y="571">Cyprus</text>
<text x="541" y="585">Bezos: 24.47%</text><text x="585.6" y="585">Bezos: 65.90%</text><text x="630" y="585">Bezos: 75.57%</text>
<text x="541" y="611">Legal Entity</text><text x="585.6" y="611">Person</text><text x="630" y="611">Person</text>
<text x="541" y="623">Bezos: Promoting</text><text x="541" y="626">Cyprus</text><text x="585.6" y="623">Bezos: Director</text><text x="585.6" y="626">Cyprus</text><text x="630" y="623">Bezos: Director</text><text x="630" y="626">Cyprus</text>
<text x="585.6" y="665.5">Private Limited Company (LTD)</text><text x="585.6" y="679">Bezos: Promoting</text><text x="585.6" y="682">Cyprus</text>
</g>
</g>

<!-- ================= LAPTOP ================= -->
<g>
<ellipse cx="1210" cy="631" rx="285" ry="7" fill="#33475c" opacity="0.28" filter="url(#blur6)"/>
<rect x="977" y="316" width="467" height="302" rx="15" fill="#26303b"/>
<rect x="978.5" y="317.5" width="464" height="299" rx="14" fill="none" stroke="#3b4652" stroke-width="1"/>
<rect x="992" y="331" width="438" height="266" fill="#ffffff"/>
<!-- screen content -->
<rect x="992" y="331" width="438" height="11" fill="#1f5fbf"/>
<text x="1211" y="338.5" font-size="3.2" fill="#fff" text-anchor="middle">Dashboard - Mosaic IV</text>
<text x="996" y="338.5" font-size="3" fill="#c9d8f0">⟲ ▾ ▤ ▾ ▣ ▾</text>
<text x="1393" y="338.5" font-size="3" fill="#fff">⚙  –  □  ×</text>
<g stroke="#e07b39" stroke-width=".6"><line x1="997" y1="344" x2="1002" y2="344"/><line x1="997" y1="345.5" x2="1002" y2="345.5"/><line x1="997" y1="347" x2="1002" y2="347"/></g>
<text x="1014.5" y="347.3" font-size="2.5" fill="#222" font-weight="bold">Dashboard</text>
<line x1="1014" y1="348.5" x2="1027" y2="348.5" stroke="#1f5fbf" stroke-width=".5"/>
<circle cx="1424" cy="345.5" r="1.5" fill="none" stroke="#999" stroke-width=".4"/>
<g fill="none" stroke="#3b5f95" stroke-width=".7">
<circle cx="1002.5" cy="354.5" r="2.2"/><line x1="1004" y1="356" x2="1006" y2="358.5"/>
<circle cx="1015.5" cy="354.5" r="2.2"/><line x1="1017" y1="356" x2="1019" y2="358.5"/>
<rect x="1027" y="352" width="4" height="5.5"/><rect x="1029" y="354" width="3.5" height="4.5"/>
<circle cx="1045" cy="355.5" r="2.5"/>
<path d="M1060,353 h4 l1,1 h2 v5 h-7 z"/><rect x="1077" y="352" width="5" height="6.5"/><line x1="1079.5" y1="354" x2="1079.5" y2="357"/>
<circle cx="1099" cy="355.5" r="2.2" stroke-width="1.3" stroke="#2d4a78"/><rect x="1111" y="352" width="5" height="6"/><circle cx="1114" cy="356" r="1.5"/>
<rect x="1416" y="352" width="5" height="6.5"/><path d="M1418,355 h4 l-1.2,-1.2 M1422,355 l-1.2,1.2"/>
</g>
<g font-size="1.8" fill="#444" text-anchor="middle">
<text x="1002.5" y="363">Zoom In</text><text x="1015.5" y="363">Zoom Out</text><text x="1029.5" y="363">Toggle</text><text x="1029.5" y="365.5">View</text><text x="1045" y="363">Refresh</text>
<text x="1063" y="363">Load All</text><text x="1063" y="365.5">Snapshots</text><text x="1080" y="363">Create</text><text x="1080" y="365.5">Snapshots</text><text x="1099" y="363">Manage</text><text x="1099" y="365.5">Snapshots</text><text x="1114" y="363">Print</text><text x="1419" y="363">Close</text>
<text x="1055" y="373.5" fill="#999">View</text><text x="1114" y="373.5" fill="#999">Tools</text><text x="1419" y="373.5" fill="#999">Other</text>
</g>
<g stroke="#e0e0e0" stroke-width=".4"><line x1="1108" y1="351" x2="1108" y2="375"/><line x1="1121" y1="351" x2="1121" y2="375"/><line x1="1411" y1="351" x2="1411" y2="375"/></g>
<line x1="992" y1="376" x2="1430" y2="376" stroke="#d9d9d9" stroke-width=".5"/>
<rect x="992" y="376.3" width="438" height="201.7" fill="#eeeeee"/>

<!-- KPI -->
<rect x="998" y="381" width="209" height="52" fill="#fff" stroke="#d6d6d6" stroke-width=".4"/>
<circle cx="1002" cy="384" r="1.5" fill="none" stroke="#888" stroke-width=".4"/>
<text x="1006" y="385.2" font-size="2.3" fill="#444">KPI Traffic Lights</text>
<g font-size="1.9" fill="#333"><text x="999.5" y="390.8">Documents Expiring</text><text x="999.5" y="397.1">Documents Expiring - Agreements</text><text x="999.5" y="403.4">Documents Expiring - Background Searches</text><text x="999.5" y="409.7">Documents Expiring - Lease Agreements</text></g>
<g stroke="#ececec" stroke-width=".4"><line x1="998" y1="393" x2="1144" y2="393"/><line x1="998" y1="399.3" x2="1144" y2="399.3"/><line x1="998" y1="405.6" x2="1144" y2="405.6"/><line x1="998" y1="412" x2="1144" y2="412"/></g>
<rect x="1144" y="386.5" width="20.3" height="25.5" fill="url(#gr)"/><rect x="1164.3" y="386.5" width="20.3" height="25.5" fill="url(#go)"/><rect x="1184.6" y="386.5" width="22.2" height="25.5" fill="url(#gg)"/>
<g stroke="#fff" stroke-width=".3" opacity=".7"><line x1="1144" y1="393" x2="1207" y2="393"/><line x1="1144" y1="399.3" x2="1207" y2="399.3"/><line x1="1144" y1="405.6" x2="1207" y2="405.6"/></g>
<g font-size="1.8" fill="#fff" text-anchor="middle">
<text x="1154" y="390.8">18</text><text x="1174.5" y="390.8">0</text><text x="1195.5" y="390.8">37</text>
<text x="1154" y="397.1">0</text><text x="1174.5" y="397.1">0</text><text x="1195.5" y="397.1">0</text>
<text x="1154" y="403.4">0</text><text x="1174.5" y="403.4">0</text><text x="1195.5" y="403.4">0</text>
<text x="1154" y="409.7">0</text><text x="1174.5" y="409.7">0</text><text x="1195.5" y="409.7">0</text>
</g>

<!-- Compliance Review Status -->
<rect x="998" y="437.5" width="209" height="50" fill="#fff" stroke="#d6d6d6" stroke-width=".4"/>
<circle cx="1002" cy="440.8" r="1.5" fill="none" stroke="#888" stroke-width=".4"/>
<text x="1006" y="442" font-size="2.2" fill="#444">Compliance Review Status</text>
<rect x="1002" y="444.5" width="200" height="6" fill="#f6f6f6"/>
<g font-size="1.8" fill="#333" font-weight="bold" text-anchor="middle"><text x="1029" y="448.3">Company Name</text><text x="1064.5" y="448.3">Organisation</text><text x="1092" y="448.3">Review Status</text></g>
<g font-size="1.8" fill="#333">
<text x="1005.5" y="455">AYIONA CYPRUS LIMITED</text><text x="1053" y="455">MOSBUS DUBAI</text><text x="1079.5" y="455">Signed Off</text>
<text x="1005.5" y="460.8">BLOSSOM LIMITED</text><text x="1053" y="460.8">MOSBUS DUBAI</text><text x="1079.5" y="460.8">Pending CCO Sign Off</text>
<text x="1005.5" y="466.5">BRAGGE LIMITED</text><text x="1053" y="466.5">MOSBUS DUBAI</text><text x="1079.5" y="466.5">Signed Off</text>
<text x="1005.5" y="472.3">PEGARD HOLDINGS LIMITED</text><text x="1053" y="472.3">MOSBUS DUBAI</text><text x="1079.5" y="472.3">Signed Off</text>
</g>
<rect x="1202" y="464" width="1.2" height="5" fill="#aaa"/>
<line x1="1002" y1="477" x2="1202" y2="477" stroke="#e4e4e4" stroke-width=".4"/>

<!-- WIP -->
<rect x="998" y="493" width="209" height="50" fill="#fff" stroke="#d6d6d6" stroke-width=".4"/>
<circle cx="1002" cy="496.5" r="1.5" fill="none" stroke="#888" stroke-width=".4"/>
<text x="1006" y="497.6" font-size="2.2" fill="#444">WIP by Client</text>
<rect x="1002" y="500" width="200" height="6" fill="#f6f6f6"/>
<g font-size="1.8" fill="#333" font-weight="bold" text-anchor="middle"><text x="1027" y="503.8">Client</text><text x="1063" y="503.8">Less 30</text><text x="1083" y="503.8">31 To 60</text><text x="1103" y="503.8">61 To 90</text><text x="1121" y="503.8">91 Hours</text><text x="1136" y="503.8">Total</text></g>
<g font-size="1.8" fill="#333">
<text x="1005.5" y="510.6">BLUE GREEN LIMITED</text><text x="1005.5" y="516.4">BLUE MOON HOLDING</text><text x="1005.5" y="522.2">BLUEDROPS</text><text x="1005.5" y="528">EM FRACTIONAL SHARES LIMITED</text>
</g>
<g font-size="1.8" fill="#333" text-anchor="end">
<text x="1068" y="510.6">0.00</text><text x="1088" y="510.6">0.00</text><text x="1108" y="510.6">0.00</text><text x="1126" y="510.6">14,415.00</text><text x="1142" y="510.6">14,415.00</text>
<text x="1068" y="516.4">0.00</text><text x="1088" y="516.4">0.00</text><text x="1108" y="516.4">0.00</text><text x="1126" y="516.4">4,075.00</text><text x="1142" y="516.4">4,075.00</text>
<text x="1068" y="522.2">0.00</text><text x="1088" y="522.2">0.00</text><text x="1108" y="522.2">0.00</text><text x="1126" y="522.2">775.00</text><text x="1142" y="522.2">775.00</text>
<text x="1068" y="528">0.00</text><text x="1088" y="528">0.00</text><text x="1108" y="528">0.00</text><text x="1126" y="528">50.00</text><text x="1142" y="528">50.00</text>
</g>
<g fill="#fff" stroke="#dcdcdc" stroke-width=".35"><rect x="1052" y="534.5" width="17.5" height="4.8"/><rect x="1072" y="534.5" width="17.5" height="4.8"/><rect x="1092" y="534.5" width="17.5" height="4.8"/><rect x="1112" y="534.5" width="17.5" height="4.8"/><rect x="1132" y="534.5" width="11" height="4.8"/></g>
<g font-size="1.7" fill="#333" text-anchor="end"><text x="1068" y="537.6">400.00</text><text x="1088" y="537.6">5,375.00</text><text x="1108" y="537.6">5,400.00</text><text x="1128" y="537.6">234,201.15</text><text x="1142.5" y="537.6">246,376...</text></g>
<rect x="1202" y="516" width="1.2" height="5" fill="#aaa"/>

<!-- Economic -->
<rect x="998" y="549" width="209" height="29" fill="#fff" stroke="#d6d6d6" stroke-width=".4"/>
<circle cx="1002" cy="552.3" r="1.5" fill="none" stroke="#888" stroke-width=".4"/>
<text x="1006" y="553.5" font-size="2.2" fill="#444">Economic Profile Reviews</text>
<rect x="1002" y="555.5" width="200" height="6" fill="#f6f6f6"/>
<g font-size="1.7" fill="#333" font-weight="bold" text-anchor="middle"><text x="1024" y="559.3">Reviews</text><text x="1072" y="559.3">Companies Under Management And Trusts</text><text x="1116" y="559.3">External Companies</text><text x="1138" y="559.3">People</text></g>
<rect x="1042" y="563.5" width="105" height="4.5" fill="#e6e6e6"/>
<g font-size="1.8" fill="#333">
<text x="1003" y="566.8">›  Reviews in 15 Days</text><text x="1006.5" y="572">Reviews in 30 Days</text><text x="1006.5" y="577">Reviews in 90 Days</text>
</g>
<g font-size="1.8" fill="#333" text-anchor="end">
<text x="1101" y="566.8">9.00</text><text x="1128" y="566.8">7.00</text><text x="1145" y="566.8">8.00</text>
<text x="1101" y="572">11.00</text><text x="1128" y="572">5.00</text><text x="1145" y="572">3.00</text>
<text x="1101" y="577">38.00</text><text x="1128" y="577">7.00</text><text x="1145" y="577">5.00</text>
</g>
<rect x="1202" y="566" width="1.2" height="5" fill="#aaa"/>

<!-- Documents pending -->
<rect x="1212" y="381" width="209" height="66" fill="#fff" stroke="#d6d6d6" stroke-width=".4"/>
<circle cx="1216" cy="384.5" r="1.5" fill="none" stroke="#888" stroke-width=".4"/>
<text x="1220" y="385.8" font-size="2.2" fill="#444">Documents Pending</text>
<rect x="1215" y="388" width="202" height="5.5" fill="#f6f6f6"/>
<g font-size="1.8" fill="#333" font-weight="bold" text-anchor="middle"><text x="1226" y="391.5">Type</text><text x="1244" y="391.5">Overdue</text><text x="1281" y="391.5">Document Name</text><text x="1410" y="391.5">Subject</text></g>
<g font-size="1.7" fill="#333">
<text x="1221" y="398">Approval</text><text x="1256" y="398">BM LIMITED_03_08_2023.pdf</text><text x="1325" y="398">Document Approval | Engagement Agreements Signing | Submit for Lona</text>
<text x="1221" y="403.8">Approval</text><text x="1256" y="403.8">Transaction Documents.pdf</text><text x="1325" y="403.8">Document Approval | Engagement Agreements Signing | Partner Approval</text>
<text x="1221" y="409.5">Approval</text><text x="1256" y="409.5">calc.xlsx</text><text x="1325" y="409.5">Document Approval | Partner Approval | Review and Approval for onboard</text>
<text x="1221" y="415.3">Workflow</text><text x="1256" y="415.3">GOLA LIMITED - Declaration of Trust - 01_08_2023.pdf</text><text x="1325" y="415.3">ABCL LIMITED - Declaration of Trust - 01_08_2023.docx 1 Director Review</text>
<text x="1221" y="421">Workflow</text><text x="1256" y="421">GOLA LIMITED - Declaration of Trust - 01_08_2023.pdf</text><text x="1325" y="421">ABCL LIMITED - Declaration of Trust - 01_08_2023.docx 2 Document Compl</text>
<text x="1221" y="426.8">Workflow</text><text x="1256" y="426.8">JAY_2020.pdf</text><text x="1325" y="426.8">JAY_2020.pdf 1 Director Review</text>
</g>
<g fill="#2f6fc9"><rect x="1243.3" y="395.8" width="2.4" height="2.4"/><rect x="1243.3" y="401.6" width="2.4" height="2.4"/><rect x="1243.3" y="407.3" width="2.4" height="2.4"/><rect x="1243.3" y="413.1" width="2.4" height="2.4"/><rect x="1243.3" y="418.8" width="2.4" height="2.4"/><rect x="1243.3" y="424.6" width="2.4" height="2.4"/></g>
<rect x="1416" y="400" width="1.2" height="5" fill="#aaa"/>
<rect x="1217" y="442" width="124" height="1" fill="#c8c8c8"/>

<!-- Sales chart -->
<rect x="1212" y="450.5" width="209" height="66" fill="#fff" stroke="#d6d6d6" stroke-width=".4"/>
<text x="1215" y="454.6" font-size="2" fill="#444">Sales (last 12 months)</text>
<g font-size="1.7" fill="#555" text-anchor="end"><text x="1223.5" y="461.3">10000</text><text x="1223.5" y="471">8000</text><text x="1223.5" y="480.6">6000</text><text x="1223.5" y="490.3">4000</text><text x="1223.5" y="499.9">2000</text><text x="1223.5" y="509.6">0</text></g>
<line x1="1226" y1="509" x2="1418" y2="509" stroke="#cfcfcf" stroke-width=".4"/>
<polyline points="1233.7,473.3 1248.5,497.3 1263.3,504 1277.4,500 1291,496 1307,490.3 1321.8,493.3 1337,463.3 1351.4,495.7 1365.8,495.7 1380.6,487 1395.4,503.3 1410.2,500.3" fill="none" stroke="#6f9cc4" stroke-width=".7"/>
<g font-size="1.5" fill="#555" text-anchor="middle"><text x="1233.7" y="513.5">01/2024</text><text x="1248.5" y="513.5">02/2024</text><text x="1263.3" y="513.5">03/2024</text><text x="1277.4" y="513.5">04/2024</text><text x="1291" y="513.5">05/2024</text><text x="1307" y="513.5">06/2024</text><text x="1321.8" y="513.5">07/2024</text><text x="1337" y="513.5">08/2024</text><text x="1351.4" y="513.5">09/2024</text><text x="1365.8" y="513.5">10/2024</text><text x="1380.6" y="513.5">11/2024</text><text x="1395.4" y="513.5">12/2024</text><text x="1410.2" y="513.5">01/2025</text></g>

<!-- Risk -->
<rect x="1212" y="521.5" width="209" height="57" fill="#fff" stroke="#d6d6d6" stroke-width=".4"/>
<text x="1215" y="525.6" font-size="2" fill="#444">Compliance Risk Rating Data Set</text>
<rect x="1215" y="527.5" width="202" height="5.5" fill="#f6f6f6"/>
<g font-size="1.7" fill="#333" font-weight="bold" text-anchor="middle"><text x="1230" y="531">Team</text><text x="1261" y="531">Entity</text><text x="1280" y="531">Type</text><text x="1297.5" y="531">Profile Year</text><text x="1318" y="531">Review Date</text><text x="1353" y="531">Status</text><text x="1374" y="531">Score</text><text x="1389" y="531">Risk</text><text x="1410" y="531">Tech Score</text></g>
<rect x="1217" y="535" width="196" height="4.5" fill="#e6e6e6"/>
<g font-size="1.7" fill="#333">
<text x="1218" y="538">›  Accounting Department</text><text x="1253" y="538">TITOA</text><text x="1274" y="538">Legal Entity</text><text x="1292" y="538">2024</text><text x="1313" y="538">06/06/2024</text><text x="1340" y="538">Pending</text><text x="1372" y="538">47</text><text x="1385" y="538">Medium</text><text x="1400" y="538">44</text>
<text x="1221" y="543.8">Immigration</text><text x="1253" y="543.8">TLD GROUP</text><text x="1274" y="543.8">Legal Entity</text><text x="1292" y="543.8">2022</text><text x="1313" y="543.8">06/06/2024</text><text x="1340" y="543.8">Pending - Missing Data</text><text x="1372" y="543.8">47</text><text x="1385" y="543.8">Medium</text><text x="1400" y="543.8">79</text>
<text x="1221" y="549.5">Accounting Department</text><text x="1253" y="549.5">TOHO Limited</text><text x="1274" y="549.5">Legal Entity</text><text x="1292" y="549.5">2023</text><text x="1313" y="549.5">27/12/2024</text><text x="1340" y="549.5">Pending</text><text x="1372" y="549.5">61</text><text x="1385" y="549.5">High</text><text x="1400" y="549.5">37</text>
<text x="1221" y="555.3">Banking 1</text><text x="1253" y="555.3">GNB LTD</text><text x="1274" y="555.3">Legal Entity</text><text x="1292" y="555.3">2024</text><text x="1313" y="555.3">29/12/2024</text><text x="1340" y="555.3">Pending</text><text x="1372" y="555.3">52</text><text x="1385" y="555.3">High</text><text x="1400" y="555.3">32</text>
<text x="1253" y="561">a two</text><text x="1274" y="561">Legal Entity</text><text x="1292" y="561">2021</text><text x="1313" y="561">29/12/2024</text><text x="1340" y="561">Approval Workflow</text><text x="1372" y="561">37</text><text x="1385" y="561">High</text><text x="1400" y="561">32</text>
<text x="1221" y="566.8">Register of Companies</text><text x="1253" y="566.8">AAS Nominees</text><text x="1274" y="566.8">Legal Entity</text><text x="1292" y="566.8">2024</text><text x="1313" y="566.8">06/06/2024</text><text x="1340" y="566.8">Pending</text><text x="1372" y="566.8">27</text><text x="1385" y="566.8">Medium</text><text x="1400" y="566.8">32</text>
</g>
<rect x="1416" y="540" width="1.2" height="5" fill="#aaa"/>

<!-- tabs / status -->
<rect x="992" y="578" width="438" height="8.5" fill="#f7f7f7"/>
<text x="995" y="583.5" font-size="2" fill="#2060b0">⌂ Dashboard ×</text>
<rect x="1023" y="578.8" width="44" height="6.5" fill="#fff" stroke="#cfcfcf" stroke-width=".35"/>
<text x="1025" y="583.5" font-size="2" fill="#2060b0">⌂ Dashboard Configuration ×</text>
<line x1="992" y1="586.5" x2="1430" y2="586.5" stroke="#d8d8d8" stroke-width=".4"/>
<rect x="992" y="586.7" width="438" height="10.3" fill="#f2f2f2"/>
<text x="996" y="592.8" font-size="2" fill="#444">☐ Ready ⌄</text>
<text x="1272" y="592.8" font-size="1.8" fill="#444">⊙ Organisation: MOSBUS  ⊥ User: Lukdyak  ⊡ Records Retrieved  ⊙ 0  ⊡ Compliance: 0</text>
<rect x="1395" y="588.3" width="32" height="7" fill="#d0d0d0"/>

<!-- base -->
<rect x="932" y="613" width="556" height="13" rx="5" fill="url(#base)"/>
<rect x="934" y="613" width="552" height="2" rx="1" fill="#6a7888" opacity=".8"/>
<rect x="1112" y="613" width="178" height="4" rx="2" fill="#3a4653"/>
<rect x="1116" y="613" width="170" height="1.2" fill="#55626f"/>
</g>

<!-- title -->
<text x="358" y="919" font-size="40" fill="#111c2b" textLength="862" lengthAdjust="spacingAndGlyphs">Fragmented Systems vs Unified Compliance Data</text>
</svg>
</body></html>
